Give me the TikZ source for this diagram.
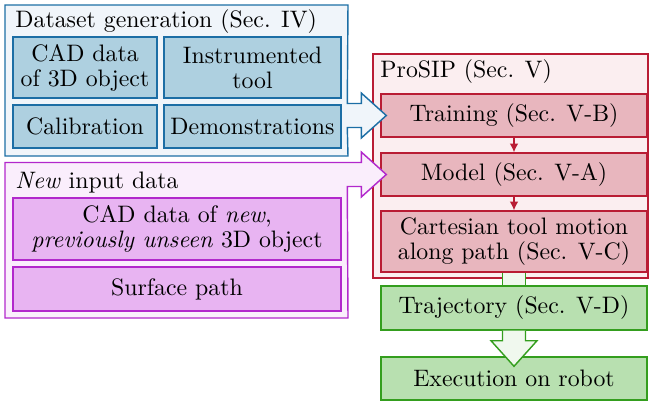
\documentclass[tikz,border=0pt]{standalone}
\usepackage{tikz}
\usetikzlibrary{arrows,arrows.meta,calc}
\definecolor{dsline}{RGB}{28,110,165}
\definecolor{dsfill}{RGB}{174,208,224}
\definecolor{dsback}{RGB}{240,245,250}
\definecolor{sipline}{RGB}{185,28,52}
\definecolor{sipfill}{RGB}{232,182,190}
\definecolor{sipback}{RGB}{251,238,240}
\definecolor{newline}{RGB}{178,40,204}
\definecolor{newfill}{RGB}{232,180,242}
\definecolor{newback}{RGB}{250,238,252}
\definecolor{outline}{RGB}{52,158,30}
\definecolor{outfill}{RGB}{184,224,176}
\definecolor{outback}{RGB}{240,248,238}
\tikzstyle{ndds} = [draw=dsline, fill=dsfill, line width=0.6pt, inner sep=0.5pt, align=center]
\tikzstyle{ndnew} = [draw=newline, fill=newfill, line width=0.6pt, inner sep=0.5pt, align=center, minimum width=137.76pt]
\tikzstyle{ndsip} = [draw=sipline, fill=sipfill, line width=0.6pt, inner sep=0.5pt, align=center, minimum width=111.72pt]
\tikzstyle{ndout} = [draw=outline, fill=outfill, line width=0.6pt, inner sep=0.5pt, align=center, minimum width=111.72pt]
\tikzstyle{ttl} = [anchor=base west, inner sep=0pt]
\tikzstyle{frds} = [draw=dsline, fill=dsback, line width=0.6pt]
\tikzstyle{frnew} = [draw=newline, fill=newback, line width=0.6pt]
\tikzstyle{frsip} = [draw=sipline, fill=sipback, line width=0.6pt]
\tikzstyle{frout} = [draw=outline, fill=outback, line width=0.6pt]
\tikzstyle{tuh} = [style={->,>={Latex[length=3.6pt,width=3.6pt]},draw=sipline,line width=0.6pt}]

\begin{document}
\begin{tikzpicture}[x=0.42pt,y=-0.42pt]
        \useasboundingbox (0,0) rectangle (649,403);
        % ProSIP
        \draw[frsip] (373,54) rectangle (648,278);
        \node[ttl] (siptitle) at (380,77) {ProSIP (Sec. V)};
        \node[ndsip, minimum height=18.06pt] (train) at (514,115.5) {Training (Sec. V-B)};
        \node[ndsip, minimum height=18.06pt] (model) at (514,174.5) {Model (Sec. V-A)};
        \node[ndsip, minimum height=25.62pt] (cart) at (514,241.5) {Cartesian tool motion\\[-1.5pt]along path (Sec. V-C)};
        \draw[tuh] (train) -- (model);
        \draw[tuh] (model) -- (cart);
        % dataset generation
        \draw[frds] (5,5) -- (348,5) -- ($(train.west)+(-33,-12)$) -- ($(train.west)+(-19,-12)$)
          -- ($(train.west)+(-19,-22.5)$) -- ($(train.west)+(6,0)$) -- ($(train.west)+(-19,22.5)$)
          -- ($(train.west)+(-19,12)$) -- ($(train.west)+(-33,12)$) -- (348,156) -- (5,156) -- cycle;
        \node[ttl] (dstitle) at (15,27) {Dataset generation (Sec. IV)};
        \node[ndds, minimum width=60.48pt, minimum height=25.62pt] (cad) at (85,67.5) {CAD data\\[-1.5pt]of 3D object};
        \node[ndds, minimum width=74.34pt, minimum height=25.62pt] (tool) at (252.5,67.5) {Instrumented\\[-1.5pt]tool};
        \node[ndds, minimum width=60.48pt, minimum height=18.06pt] (calib) at (85,126.5) {Calibration};
        \node[ndds, minimum width=74.34pt, minimum height=18.06pt] (demo) at (252.5,126.5) {Demonstrations};
        % new input data
        \draw[frnew] (5,162.5) -- ($(model.west)+(-19,-12)$) -- ($(model.west)+(-19,-22.5)$)
          -- ($(model.west)+(6,0)$) -- ($(model.west)+(-19,22.5)$) -- ($(model.west)+(-19,12)$)
          -- ($(model.west)+(-33,12)$) -- (348,318) -- (5,318) -- cycle;
        \node[ttl] (newtitle) at (15,188) {\emph{New} input data};
        \node[ndnew, minimum height=26.04pt] (newcad) at (177,229) {CAD data of \emph{new},\\[-1.5pt]\emph{previously unseen} 3D object};
        \node[ndnew, minimum height=18.48pt] (surf) at (177,289) {Surface path};
        % output
        \node[ndout, minimum height=18.48pt] (traj) at (514,308) {Trajectory (Sec. V-D)};
        \fill[outback] ($(cart.south)+(-11.5,0.6)$) rectangle ($(traj.north)+(11.5,-0.6)$);
        \draw[outline, line width=0.6pt] ($(cart.south)+(-11.5,0)$) -- ($(traj.north)+(-11.5,0)$);
        \draw[outline, line width=0.6pt] ($(cart.south)+(11.5,0)$) -- ($(traj.north)+(11.5,0)$);
        \node[ndout, minimum height=18.06pt] (exec) at (514,378.5) {Execution on robot};
        \draw[frout] ($(traj.south)+(-11.5,0)$) -- ($(traj.south)+(-11.5,10)$) -- ($(traj.south)+(-23,10)$)
          -- ($(exec.north)+(0,10)$) -- ($(traj.south)+(23,10)$) -- ($(traj.south)+(11.5,10)$)
          -- ($(traj.south)+(11.5,0)$);
      \end{tikzpicture}
\end{document}
